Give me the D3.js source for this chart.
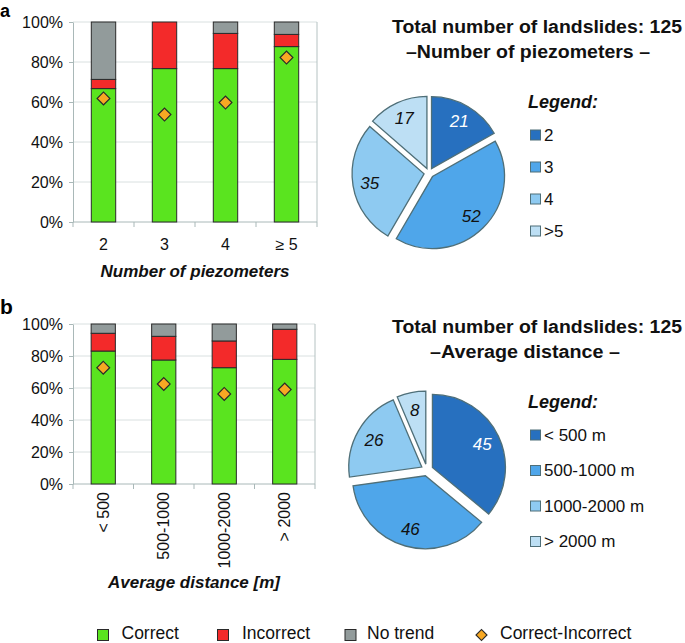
<!DOCTYPE html>
<html><head><meta charset="utf-8">
<script src="https://cdn.jsdelivr.net/npm/d3@7"></script>
<style>
html,body{margin:0;padding:0;background:#fff;}
svg{display:block;font-family:"Liberation Sans",Arial,Helvetica,sans-serif;}
</style></head>
<body>
<svg id="c" width="685" height="643"></svg>
<script>
// ---- data ----
const catsA = ["2", "3", "4", "\u2265 5"];
const correctA = [66.7, 76.7, 76.7, 87.7];
const incorrectA = [4.6, 23.3, 17.6, 6.1];
const noTrendA = [28.7, 0, 5.7, 6.2];
const diffA = [61.8, 53.7, 59.7, 82.2];

const catsB = ["< 500", "500-1000", "1000-2000", "> 2000"];
const correctB = [83.1, 77.5, 72.7, 77.9];
const incorrectB = [11.1, 14.8, 16.7, 18.8];
const noTrendB = [5.8, 7.7, 10.6, 3.3];
const diffB = [72.7, 62.5, 56.3, 59.0];

const pieValsA = [21, 52, 35, 17];
const pieLegA = ["2", "3", "4", ">5"];
const pieValsB = [45, 46, 26, 8];
const pieLegB = ["< 500 m", "500-1000 m", "1000-2000 m", "> 2000 m"];

const yTicks = [0, 20, 40, 60, 80, 100];
const seriesNames = ["Correct", "Incorrect", "No trend", "Correct-Incorrect"];

// ---- styles ----
const COL = {green:"#5ae41f", red:"#f32a2a", gray:"#929b9b", orange:"#f7a823"};
const PIECOL = ["#2770bf", "#4fa6ea", "#8ecaf1", "#bddff4"];
const FONT = "'Liberation Sans',Arial,Helvetica,sans-serif";

const svg = d3.select("#c");

function barChart(cats, correct, incorrect, noTrend, diff, box, rotated, title, titleY) {
  const x = d3.scaleBand().domain(cats).range([box.l, box.r]).paddingInner(0.6).paddingOuter(0.3);
  const y = d3.scaleLinear().domain([0, 100]).range([box.b, box.t]);
  const g = svg.append("g");
  // gridlines
  g.selectAll("line.grid").data(yTicks.slice(1)).enter().append("line")
    .attr("x1", box.l).attr("x2", box.r).attr("y1", d => y(d)).attr("y2", d => y(d))
    .attr("stroke", "#d9e0e0").attr("stroke-width", 1);
  // right border
  g.append("line").attr("x1", box.r).attr("x2", box.r).attr("y1", box.t).attr("y2", box.b)
    .attr("stroke", "#b5c2c2");
  // y axis
  const ya = d3.axisLeft(y).tickValues(yTicks).tickFormat(d => d + "%").tickSize(4).tickSizeOuter(0);
  const yg = g.append("g").attr("transform", `translate(${box.l},0)`).call(ya);
  yg.select(".domain").attr("stroke", "#a9b8b8");
  yg.selectAll(".tick line").attr("stroke", "#a9b8b8");
  yg.selectAll(".tick text").attr("font-size", 16).attr("font-family", FONT).attr("fill", "#111").attr("x", -10);
  // x axis line + boundary ticks
  g.append("line").attr("x1", box.l).attr("x2", box.r).attr("y1", box.b).attr("y2", box.b).attr("stroke", "#a9b8b8");
  const bounds = cats.map(c => x(c) - (x.step() - x.bandwidth()) / 2);
  bounds.push(box.r);
  g.selectAll("line.bt").data(bounds).enter().append("line")
    .attr("x1", d => d).attr("x2", d => d).attr("y1", box.b).attr("y2", box.b + 5).attr("stroke", "#a9b8b8");
  // stacked bars
  const rows = cats.map((c, i) => ({c, correct: correct[i], incorrect: incorrect[i], noTrend: noTrend[i]}));
  const stack = d3.stack().keys(["correct", "incorrect", "noTrend"])(rows);
  const colors = [COL.green, COL.red, COL.gray];
  stack.forEach((layer, li) => {
    g.selectAll(null).data(layer.filter(d => d[1] - d[0] > 0)).enter().append("rect")
      .attr("x", d => x(d.data.c)).attr("width", x.bandwidth())
      .attr("y", d => y(Math.min(100, d[1]))).attr("height", d => y(d[0]) - y(Math.min(100, d[1])))
      .attr("fill", colors[li]).attr("stroke", "#2a2a2a").attr("stroke-width", 1);
  });
  // diamonds
  g.selectAll(null).data(diff).enter().append("path")
    .attr("d", d3.symbol().type(d3.symbolSquare).size(82))
    .attr("transform", (d, i) => `translate(${x(cats[i]) + x.bandwidth() / 2},${y(d)}) rotate(45)`)
    .attr("fill", COL.orange).attr("stroke", "#2a2a2a").attr("stroke-width", 1.2);
  // x labels
  if (!rotated) {
    g.selectAll(null).data(cats).enter().append("text")
      .attr("x", d => x(d) + x.bandwidth() / 2).attr("y", box.b + 28)
      .attr("text-anchor", "middle").attr("font-size", 16).attr("font-family", FONT).attr("fill", "#111").text(d => d);
  } else {
    g.selectAll(null).data(cats).enter().append("text")
      .attr("transform", d => `translate(${x(d) + x.bandwidth() / 2},${box.b + 8}) rotate(-90)`)
      .attr("text-anchor", "end").attr("dy", "0.35em")
      .attr("font-size", 16).attr("font-family", FONT).attr("fill", "#111").text(d => d);
  }
  g.append("text").attr("x", (box.l + box.r) / 2).attr("y", titleY).attr("text-anchor", "middle")
    .attr("font-size", 17).attr("font-weight", "bold").attr("font-style", "italic")
    .attr("font-family", FONT).attr("fill", "#111").text(title);
}

barChart(catsA, correctA, incorrectA, noTrendA, diffA, {l:73, r:317, t:22, b:222}, false, "Number of piezometers", 277);
barChart(catsB, correctB, incorrectB, noTrendB, diffB, {l:73, r:315, t:324, b:484}, true, "Average distance [m]", 588);

function pieChart(vals, legs, cx, cy, r, off, t1, t2, t1x, t2x, t2len, ty, legY, legGap) {
  const g = svg.append("g");
  g.append("text").attr("x", t1x).attr("y", ty).attr("text-anchor", "middle")
    .attr("font-size", 18).attr("font-weight", "bold").attr("font-family", FONT).attr("fill", "#111")
    .attr("textLength", 290).attr("lengthAdjust", "spacingAndGlyphs").text(t1);
  g.append("text").attr("x", t2x).attr("y", ty + 25).attr("text-anchor", "middle")
    .attr("font-size", 18).attr("font-weight", "bold").attr("font-family", FONT).attr("fill", "#111")
    .attr("textLength", t2len).attr("lengthAdjust", "spacingAndGlyphs").text(t2);
  const arcs = d3.pie().sort(null).value(d => d)(vals);
  const arc = d3.arc().innerRadius(0).outerRadius(r);
  const lab = d3.arc().innerRadius(55).outerRadius(55);
  arcs.forEach((a, i) => {
    const mid = (a.startAngle + a.endAngle) / 2;
    const dx = off * Math.sin(mid), dy = -off * Math.cos(mid);
    const sg = g.append("g").attr("transform", `translate(${cx + dx},${cy + dy})`);
    sg.append("path").attr("d", arc(a)).attr("fill", PIECOL[i]).attr("stroke", "#4f6f78").attr("stroke-width", 1.3);
    const c = lab.centroid(a);
    sg.append("text").attr("x", c[0]).attr("y", c[1]).attr("dy", "0.35em").attr("text-anchor", "middle")
      .attr("font-size", 17).attr("font-style", "italic").attr("font-family", FONT)
      .attr("fill", i === 0 ? "#fff" : "#111").text(a.data);
  });
  // legend
  g.append("text").attr("x", 528).attr("y", legY).attr("font-size", 18).attr("font-weight", "bold")
    .attr("font-style", "italic").attr("font-family", FONT).attr("fill", "#111").text("Legend:");
  legs.forEach((t, i) => {
    const yy = legY + 27 + i * legGap;
    g.append("rect").attr("x", 530.5).attr("y", yy - 5).attr("width", 10).attr("height", 10)
      .attr("fill", PIECOL[i]).attr("stroke", "#4f6f78").attr("stroke-width", 1);
    g.append("text").attr("x", 544).attr("y", yy).attr("dy", "0.35em").attr("font-size", 17)
      .attr("font-family", FONT).attr("fill", "#111").text(t);
  });
}

pieChart(pieValsA, pieLegA, 429, 173, 72, 5, "Total number of landslides: 125", "\u2013Number of piezometers \u2013", 537, 528, 244, 33, 108, 32);
pieChart(pieValsB, pieLegB, 427, 470, 73, 6, "Total number of landslides: 125", "\u2013Average distance \u2013", 537, 525, 190, 333, 408, 35.5);

// panel labels
svg.append("text").attr("x", 0).attr("y", 17).attr("font-size", 18).attr("font-weight", "bold").attr("font-family", FONT).text("a");
svg.append("text").attr("x", 0).attr("y", 314).attr("font-size", 21).attr("font-weight", "bold").attr("font-family", FONT).text("b");

// bottom legend
const legX = [97.5, 217.5, 345, 476];
const legTX = [121.5, 242, 367, 500];
const legCol = [COL.green, COL.red, COL.gray, COL.orange];
seriesNames.forEach((n, i) => {
  if (i < 3) {
    svg.append("rect").attr("x", legX[i]).attr("y", 629.5).attr("width", 11).attr("height", 11)
      .attr("fill", legCol[i]).attr("stroke", "#2a2a2a").attr("stroke-width", 1);
  } else {
    svg.append("path").attr("d", d3.symbol().type(d3.symbolSquare).size(60))
      .attr("transform", `translate(${legX[i] + 5.5},635) rotate(45)`)
      .attr("fill", legCol[i]).attr("stroke", "#2a2a2a").attr("stroke-width", 1.2);
  }
  svg.append("text").attr("x", legTX[i]).attr("y", 638.5).attr("font-size", 17.5).attr("font-family", FONT)
    .attr("fill", "#111").text(n);
});
</script>
</body></html>
